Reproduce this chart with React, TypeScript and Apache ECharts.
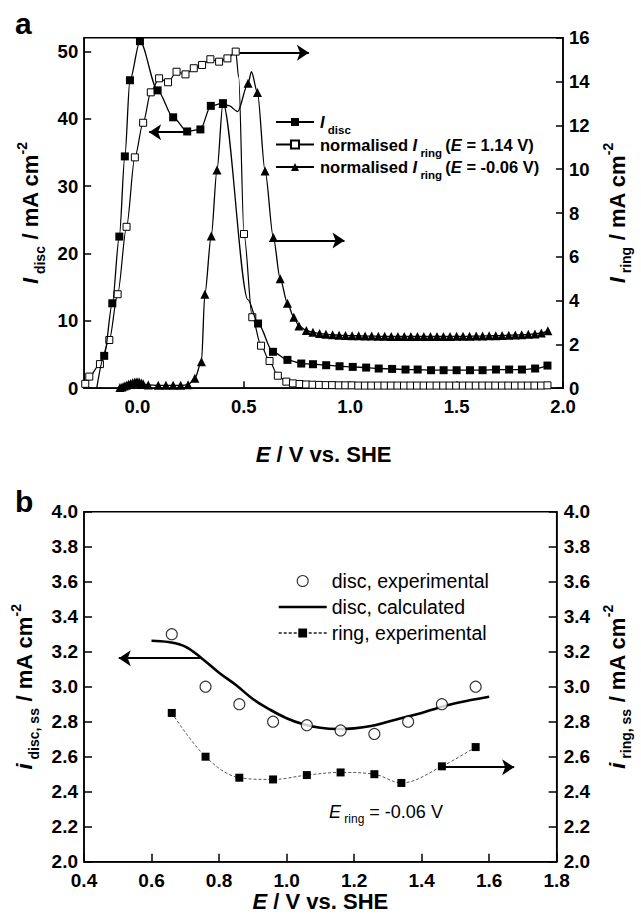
import React, { useEffect, useRef } from 'react';
import * as echarts from 'echarts';

// ---------- Panel a data ----------
const discE = [-0.191, -0.156, -0.118, -0.085, -0.059, -0.035, 0.012, 0.095, 0.168, 0.234, 0.296, 0.345, 0.402, 0.52, 0.567, 0.637, 0.705, 0.77, 0.825, 0.887, 0.95, 1.012, 1.075, 1.134, 1.197, 1.26, 1.317, 1.38, 1.439, 1.5, 1.563, 1.622, 1.685, 1.747, 1.807, 1.869, 1.927];
const discI = [0, 4.8, 12.6, 22.5, 34.4, 45.7, 51.5, 44.2, 40.2, 38.1, 38.4, 41.9, 42.3, 13.1, 9.6, 5.4, 4.2, 3.66, 3.56, 3.41, 3.26, 3.16, 3.06, 2.92, 2.86, 2.77, 2.77, 2.67, 2.67, 2.67, 2.67, 2.67, 2.77, 2.77, 2.77, 2.92, 3.36];
const discHidden = [-0.191, 0.52];

const ring114E = [-0.245, -0.226, -0.176, -0.132, -0.093, -0.051, -0.012, 0.027, 0.063, 0.102, 0.144, 0.184, 0.226, 0.265, 0.304, 0.343, 0.384, 0.423, 0.462, 0.476, 0.501, 0.54, 0.581, 0.621, 0.66, 0.7,
  0.731, 0.762, 0.793, 0.823, 0.854, 0.885, 0.915, 0.946, 0.977, 1.007, 1.038, 1.069, 1.099, 1.13, 1.161, 1.191, 1.222, 1.253, 1.283, 1.314, 1.345, 1.375, 1.406, 1.437, 1.467, 1.498, 1.529, 1.559, 1.59, 1.621, 1.651, 1.682, 1.713, 1.743, 1.774, 1.805, 1.835, 1.866, 1.897, 1.927];
const ring114I = [0.2, 0.53, 1.1, 2.2, 4.29, 7.37, 10.54, 12.12, 13.51, 14.15, 13.97, 14.45, 14.33, 14.61, 14.76, 15.02, 14.91, 15.06, 15.37, 14.2, 7.04, 3.24, 1.94, 1.24, 0.57, 0.3,
  0.22, 0.19, 0.17, 0.16, 0.15, 0.14, 0.14, 0.13, 0.13, 0.13, 0.12, 0.12, 0.12, 0.12, 0.12, 0.12, 0.12, 0.12, 0.12, 0.12, 0.12, 0.12, 0.12, 0.12, 0.12, 0.12, 0.12, 0.12, 0.12, 0.12, 0.12, 0.12, 0.12, 0.12, 0.12, 0.12, 0.12, 0.12, 0.12, 0.13];
const ring114Hidden = [0.476];

const ring006E = [-0.082, -0.072, -0.062, -0.052, -0.042, -0.032, -0.022, -0.012, -0.002, 0.008, 0.018, 0.027, 0.051, 0.098, 0.134, 0.168, 0.203, 0.238, 0.27, 0.301, 0.317, 0.347, 0.374, 0.402, 0.43, 0.471, 0.52, 0.536, 0.564, 0.6, 0.639, 0.671, 0.705, 0.735, 0.759, 0.794,
  0.825, 0.856, 0.886, 0.917, 0.948, 0.978, 1.009, 1.04, 1.07, 1.101, 1.132, 1.162, 1.193, 1.224, 1.254, 1.285, 1.316, 1.346, 1.377, 1.408, 1.438, 1.469, 1.5, 1.53, 1.561, 1.592, 1.622, 1.653, 1.684, 1.714, 1.745, 1.776, 1.806, 1.837, 1.868, 1.898, 1.929];
const ring006I = [0.03, 0.06, 0.1, 0.14, 0.18, 0.22, 0.25, 0.28, 0.3, 0.28, 0.24, 0.2, 0.15, 0.13, 0.13, 0.13, 0.13, 0.16, 0.45, 1.21, 4.29, 6.95, 9.96, 13.0, 12.9, 12.63, 13.92, 14.45, 13.5, 9.92, 6.88, 5.0, 3.88, 3.24, 2.84, 2.63,
  2.55, 2.5, 2.46, 2.44, 2.42, 2.41, 2.4, 2.39, 2.38, 2.38, 2.37, 2.37, 2.36, 2.36, 2.36, 2.36, 2.36, 2.36, 2.36, 2.36, 2.36, 2.36, 2.37, 2.37, 2.37, 2.38, 2.38, 2.39, 2.4, 2.41, 2.42, 2.43, 2.44, 2.46, 2.48, 2.52, 2.62];
const ring006Hidden = [0.43, 0.471, 0.536];

const xTicksA = [0, 0.5, 1.0, 1.5, 2.0];
const yTicksDiscA = [0, 10, 20, 30, 40, 50];
const yTicksRingA = [0, 2, 4, 6, 8, 10, 12, 14, 16];

// arrows (data coordinates): [x1, x2, y]
const arrowDiscA = [0.231, 0.055, 38.0];
const arrowRing114A = [0.481, 0.806, 15.32];
const arrowRing006A = [0.637, 0.973, 6.74];

// ---------- Panel b data ----------
const expE = [0.66, 0.76, 0.86, 0.96, 1.06, 1.16, 1.26, 1.36, 1.46, 1.56];
const discExp = [3.30, 3.00, 2.90, 2.80, 2.78, 2.75, 2.73, 2.80, 2.90, 3.00];
const ringE = [0.66, 0.76, 0.86, 0.96, 1.06, 1.16, 1.26, 1.34, 1.46, 1.56];
const ringExp = [2.85, 2.60, 2.48, 2.47, 2.495, 2.51, 2.50, 2.45, 2.545, 2.655];
const calcE = [0.60, 0.65, 0.70, 0.75, 0.80, 0.85, 0.90, 0.95, 1.00, 1.05, 1.10, 1.15, 1.20, 1.25, 1.30, 1.35, 1.40, 1.45, 1.50, 1.55, 1.60];
const calcI = [3.263, 3.255, 3.229, 3.16, 3.08, 3.01, 2.93, 2.87, 2.82, 2.785, 2.765, 2.758, 2.762, 2.775, 2.80, 2.825, 2.85, 2.88, 2.905, 2.925, 2.943];
const arrowDiscB = [0.747, 0.503, 3.163];
const arrowRingB = [1.456, 1.674, 2.54];

const FONT = '"Liberation Sans", Arial, Helvetica, sans-serif';

function buildData(xs: number[], ys: number[], hidden: number[]) {
  return xs.map((x, i) =>
    hidden.includes(x) ? { value: [x, ys[i]], symbol: 'none' } : [x, ys[i]]
  );
}
function pair(xs: number[], ys: number[]) {
  return xs.map((x, i) => [x, ys[i]]);
}

const titleRich = {
  i: { fontFamily: FONT, fontSize: 22, fontWeight: 'bold', fontStyle: 'italic', color: '#000', lineHeight: 32, verticalAlign: 'middle' },
  b: { fontFamily: FONT, fontSize: 22, fontWeight: 'bold', color: '#000', lineHeight: 32, verticalAlign: 'middle' },
  sub: { fontFamily: FONT, fontSize: 14, fontWeight: 'bold', color: '#000', lineHeight: 15, verticalAlign: 'bottom' },
  sup: { fontFamily: FONT, fontSize: 14, fontWeight: 'bold', color: '#000', lineHeight: 15, verticalAlign: 'top' },
};

const legARich = {
  i: { fontFamily: FONT, fontSize: 16.5, fontWeight: 'bold', fontStyle: 'italic', color: '#000', lineHeight: 28, verticalAlign: 'middle' },
  b: { fontFamily: FONT, fontSize: 16.5, fontWeight: 'bold', color: '#000', lineHeight: 28, verticalAlign: 'middle' },
  sub: { fontFamily: FONT, fontSize: 11.5, fontWeight: 'bold', color: '#000', lineHeight: 12, verticalAlign: 'bottom' },
};
const legAText: Record<string, string> = {
  Idisc: '{i|I}{sub| disc}',
  ring114: '{b|normalised }{i|I}{sub| ring }{b|(}{i|E}{b| = 1.14 V)}',
  ring006: '{b|normalised }{i|I}{sub| ring }{b|(}{i|E}{b| = -0.06 V)}',
};
const legBText: Record<string, string> = {
  discExp: 'disc, experimental',
  discCalc: 'disc, calculated',
  ringExp: 'ring, experimental',
};

const tickLabel = (size: number) => ({
  fontFamily: FONT,
  fontSize: size,
  fontWeight: 'bold',
  color: '#000',
});
const axisLine = { show: true, onZero: false, lineStyle: { color: '#000', width: 1.5 } };

function arrowSeries(a: number[], xIdx: number, yIdx: number) {
  return {
    type: 'lines',
    coordinateSystem: 'cartesian2d',
    xAxisIndex: xIdx,
    yAxisIndex: yIdx,
    silent: true,
    symbol: ['none', 'arrow'],
    symbolSize: 12,
    lineStyle: { color: '#000', width: 2, opacity: 1, curveness: 0 },
    data: [{ coords: [[a[0], a[2]], [a[1], a[2]]] }],
    z: 5,
  };
}

export default function App() {
  const ref = useRef<HTMLDivElement>(null);
  useEffect(() => {
    if (!ref.current) return;
    const chart = echarts.init(ref.current, null, { renderer: 'svg' });
    const option: any = {
      animation: false,
      backgroundColor: '#fff',
      grid: [
        { left: 84.2, right: 77.1, top: 37.8, height: 350.4, show: true, borderColor: '#000', borderWidth: 1.5, backgroundColor: 'transparent' },
        { left: 84, right: 76, top: 511.7, height: 350, show: true, borderColor: '#000', borderWidth: 1.5, backgroundColor: 'transparent' },
      ],
      xAxis: [
        {
          gridIndex: 0, type: 'value', min: -0.25, max: 2.0,
          axisLine, splitLine: { show: false },
          axisTick: { inside: true, length: 7, customValues: xTicksA, lineStyle: { color: '#000', width: 1.5 } },
          axisLabel: { ...tickLabel(18.5), margin: 9, customValues: xTicksA, formatter: (v: number) => v.toFixed(1) },
          name: '{i|E}{b| / V vs. SHE}', nameLocation: 'middle', nameGap: 50,
          nameTextStyle: { rich: titleRich },
        },
        {
          gridIndex: 1, type: 'value', min: 0.4, max: 1.8, interval: 0.2,
          axisLine, splitLine: { show: false },
          axisTick: { inside: true, length: 8, lineStyle: { color: '#000', width: 1.5 } },
          axisLabel: { ...tickLabel(19), margin: 9, formatter: (v: number) => v.toFixed(1) },
          name: '{i|E}{b| / V vs. SHE}', nameLocation: 'middle', nameGap: 24,
          nameTextStyle: { rich: titleRich },
        },
      ],
      yAxis: [
        {
          gridIndex: 0, type: 'value', min: 0, max: 52, position: 'left',
          axisLine, splitLine: { show: false },
          axisTick: { inside: true, length: 7, customValues: yTicksDiscA, lineStyle: { color: '#000', width: 1.5 } },
          axisLabel: { ...tickLabel(18.5), margin: 6, customValues: yTicksDiscA },
          name: '{i|I}{sub| disc}{b| / mA cm}{sup|-2}', nameLocation: 'middle', nameGap: 37, nameRotate: 90,
          nameTextStyle: { rich: titleRich },
        },
        {
          gridIndex: 0, type: 'value', min: 0, max: 16, position: 'right',
          axisLine, splitLine: { show: false },
          axisTick: { inside: true, length: 7, customValues: yTicksRingA, lineStyle: { color: '#000', width: 1.5 } },
          axisLabel: { ...tickLabel(18.5), margin: 6, customValues: yTicksRingA },
          name: '{i|I}{sub| ring}{b| / mA cm}{sup|-2}', nameLocation: 'middle', nameGap: 38, nameRotate: 90,
          nameTextStyle: { rich: titleRich },
        },
        {
          gridIndex: 1, type: 'value', min: 2.0, max: 4.0, interval: 0.2, position: 'left',
          axisLine, splitLine: { show: false },
          axisTick: { inside: true, length: 8, lineStyle: { color: '#000', width: 1.5 } },
          axisLabel: { ...tickLabel(19), margin: 6, formatter: (v: number) => v.toFixed(1) },
          name: '{i|i}{sub| disc, ss}{b| / mA cm}{sup|-2}', nameLocation: 'middle', nameGap: 37, nameRotate: 90,
          nameTextStyle: { rich: titleRich },
        },
        {
          gridIndex: 1, type: 'value', min: 2.0, max: 4.0, interval: 0.2, position: 'right',
          axisLine, splitLine: { show: false },
          axisTick: { inside: true, length: 8, lineStyle: { color: '#000', width: 1.5 } },
          axisLabel: { ...tickLabel(19), margin: 7, formatter: (v: number) => v.toFixed(1) },
          name: '{i|i}{sub| ring, ss}{b| / mA cm}{sup|-2}', nameLocation: 'middle', nameGap: 38, nameRotate: 90,
          nameTextStyle: { rich: titleRich },
        },
      ],
      legend: [
        {
          data: ['Idisc', 'ring114', 'ring006'],
          orient: 'vertical', left: 275, top: 113.5, padding: 0,
          itemWidth: 38, itemHeight: 10, itemGap: 0, selectedMode: false,
          formatter: (n: string) => legAText[n],
          textStyle: { rich: legARich, padding: [0, 0, 0, 1] },
        },
        {
          data: [
            { name: 'discExp', icon: 'circle', itemStyle: { color: '#fff', borderColor: '#000', borderWidth: 1.1 } },
            { name: 'discCalc', icon: 'path://M0,0L48,0L48,2.6L0,2.6Z', itemStyle: { color: '#000' } },
            'ringExp',
          ],
          orient: 'vertical', left: 277.7, top: 570, padding: 0,
          itemWidth: 48, itemHeight: 11, itemGap: 4, selectedMode: false,
          formatter: (n: string) => legBText[n],
          textStyle: { fontFamily: FONT, fontSize: 19.5, color: '#000', lineHeight: 22 },
        },
      ],
      series: [
        {
          name: 'Idisc', type: 'line', xAxisIndex: 0, yAxisIndex: 0,
          data: buildData(discE, discI, discHidden),
          smooth: 0.3, smoothMonotone: 'x', clip: false,
          symbol: 'rect', symbolSize: 8,
          lineStyle: { color: '#000', width: 1.3 },
          itemStyle: { color: '#000', borderColor: '#000', borderWidth: 0 },
          z: 3,
        },
        {
          name: 'ring114', type: 'line', xAxisIndex: 0, yAxisIndex: 1,
          data: buildData(ring114E, ring114I, ring114Hidden),
          smooth: 0.3, smoothMonotone: 'x', clip: false,
          symbol: 'rect', symbolSize: 7,
          lineStyle: { color: '#000', width: 1.2 },
          itemStyle: { color: '#fff', borderColor: '#000', borderWidth: 1 },
          z: 2,
        },
        {
          name: 'ring006', type: 'line', xAxisIndex: 0, yAxisIndex: 1,
          data: buildData(ring006E, ring006I, ring006Hidden),
          smooth: 0.3, smoothMonotone: 'x', clip: false,
          symbol: 'triangle', symbolSize: 9,
          lineStyle: { color: '#000', width: 1.3 },
          itemStyle: { color: '#000', borderColor: '#000', borderWidth: 0 },
          z: 4,
        },
        arrowSeries(arrowDiscA, 0, 0),
        arrowSeries(arrowRing114A, 0, 1),
        arrowSeries(arrowRing006A, 0, 1),
        {
          name: 'discExp', type: 'scatter', xAxisIndex: 1, yAxisIndex: 2,
          data: pair(expE, discExp),
          symbol: 'circle', symbolSize: 11,
          itemStyle: { color: '#fff', borderColor: '#000', borderWidth: 1.1 },
          z: 3,
        },
        {
          name: 'discCalc', type: 'line', xAxisIndex: 1, yAxisIndex: 2,
          data: pair(calcE, calcI),
          smooth: 0.4, symbol: 'none',
          lineStyle: { color: '#000', width: 2.6 },
          itemStyle: { color: '#000' },
          z: 2,
        },
        {
          name: 'ringExp', type: 'line', xAxisIndex: 1, yAxisIndex: 3,
          data: pair(ringE, ringExp),
          smooth: 0.35, symbol: 'rect', symbolSize: 8,
          lineStyle: { color: '#555', width: 1, type: [3, 2] },
          itemStyle: { color: '#000' },
          z: 3,
        },
        arrowSeries(arrowDiscB, 1, 2),
        arrowSeries(arrowRingB, 1, 3),
      ],
      graphic: [
        { type: 'text', left: 15, top: 8, style: { text: 'a', font: `bold 30px ${FONT}`, fill: '#000' } },
        { type: 'text', left: 15, top: 486, style: { text: 'b', font: `bold 30px ${FONT}`, fill: '#000' } },
        {
          type: 'text', left: 329, top: 803,
          style: {
            text: '{i|E}{sub| ring}{n| = -0.06 V}',
            rich: {
              i: { fontFamily: FONT, fontSize: 18, fontStyle: 'italic', fill: '#000', lineHeight: 26, verticalAlign: 'middle' },
              n: { fontFamily: FONT, fontSize: 18, fill: '#000', lineHeight: 26, verticalAlign: 'middle' },
              sub: { fontFamily: FONT, fontSize: 12, fill: '#000', lineHeight: 12, verticalAlign: 'bottom' },
            },
          },
        },
      ],
    };
    chart.setOption(option);
    return () => chart.dispose();
  }, []);
  return (
    <div
      ref={ref}
      style={{ position: 'absolute', left: 0, top: 0, width: 641, height: 921, background: '#fff' }}
    />
  );
}
